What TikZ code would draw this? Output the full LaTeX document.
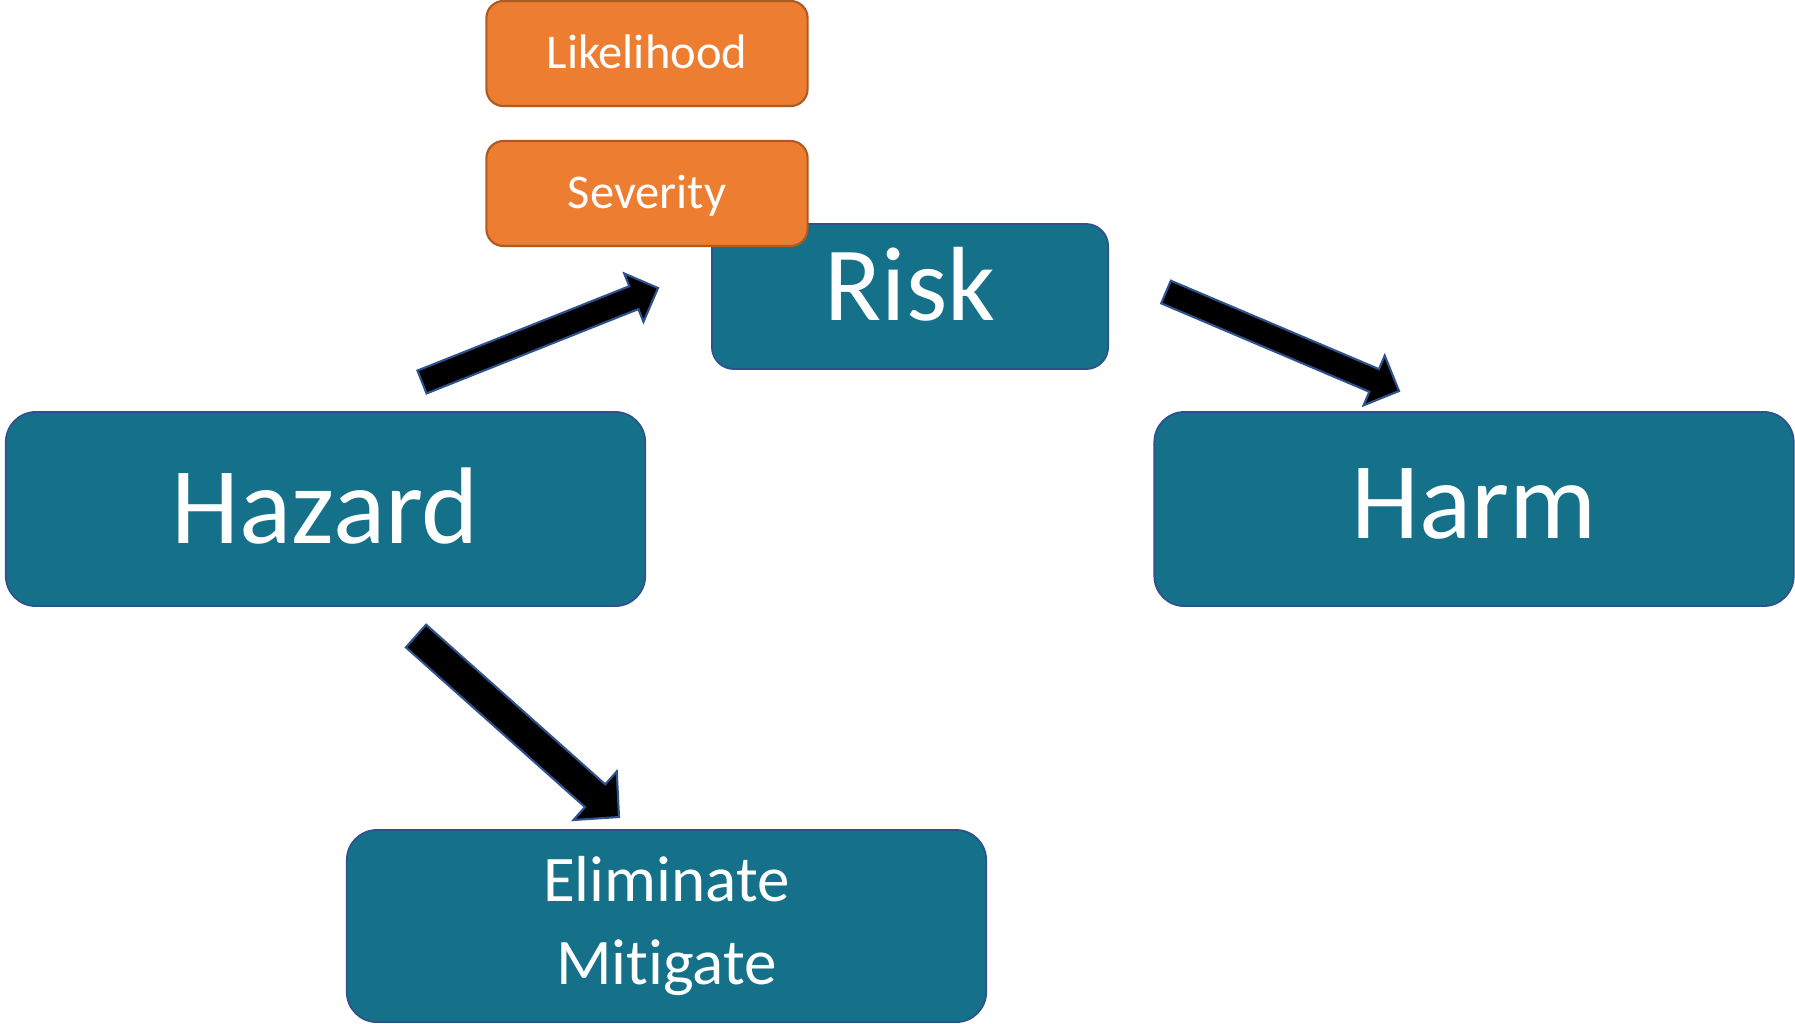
\documentclass[tikz,border=0pt]{standalone}
\usepackage{fontspec}
\setmainfont{Carlito}[Ligatures={NoCommon,NoContextual}]
\usepackage{tikz}
\usetikzlibrary{calc}

\definecolor{boxteal}{RGB}{20,113,137}
\definecolor{boxline}{RGB}{47,82,143}
\definecolor{tagorange}{RGB}{237,125,49}
\definecolor{tagline}{RGB}{174,90,33}

\tikzset{
  box/.style={draw=boxline,fill=boxteal,line width=0.5pt,rounded corners=0.3cm,
    text=white,inner sep=0pt,minimum width=6.39cm},
  tag/.style={draw=tagline,fill=tagorange,line width=0.6pt,rounded corners=0.17cm,
    text=white,inner sep=0pt,minimum width=3.21cm,minimum height=1.05cm,
    font=\fontsize{13.8}{16}\selectfont,text height=8.7pt,text depth=0pt},
  fatarrow/.style={draw=boxline,fill=black,line width=0.6pt}
}

% block arrow: tail, tip, half shaft, half head, head length
\newcommand{\blockarrow}[5]{%
  \coordinate (hb) at ($(#2)!#5!(#1)$);
  \draw[fatarrow] ($(#1)!#3!90:(#2)$) -- ($(hb)!#3!90:(#2)$) -- ($(hb)!#4!90:(#2)$) -- (#2)
    -- ($(hb)!#4!-90:(#2)$) -- ($(hb)!#3!-90:(#2)$) -- ($(#1)!#3!-90:(#2)$) -- cycle;
}

\begin{document}
\begin{tikzpicture}[x=0.01cm,y=-0.01cm]
\useasboundingbox (0,0) rectangle (1795,1023);

\node[tag] (likelihood) at (647,53.5) {Likelihood};
\node[box,minimum width=3.96cm,minimum height=1.45cm,rounded corners=0.22cm,
  font=\fontsize{30}{36}\selectfont,text height=19pt,text depth=5.4pt] (risk) at (910,296.5) {Risk};
\node[tag] (severity) at (647,193.5) {Severity};

\node[box,minimum height=1.94cm,font=\fontsize{31}{37}\selectfont,
  text height=19.6pt,text depth=0pt] (hazard) at (325.5,509) {Hazard};
\node[box,minimum height=1.94cm,font=\fontsize{31}{37}\selectfont,
  text height=19.6pt,text depth=2.8pt] (harm) at (1474,509) {Harm};
\node[box,minimum height=1.92cm,align=center,
  font=\fontsize{18.5}{23.6}\selectfont] (mitigate) at (666.5,926) {Eliminate\\Mitigate};

% arrows
\coordinate (toRiskS) at (422,382);
\coordinate (toRiskE) at (658,288);
\coordinate (toHarmS) at (1166,292);
\coordinate (toHarmE) at (1399,391);
\coordinate (toMitS) at (416,636);
\coordinate (toMitE) at (619,817);

\blockarrow{toRiskS}{toRiskE}{0.123cm}{0.26cm}{0.26cm}
\blockarrow{toHarmS}{toHarmE}{0.123cm}{0.27cm}{0.27cm}
\blockarrow{toMitS}{toMitE}{0.152cm}{0.325cm}{0.32cm}
\end{tikzpicture}
\end{document}
